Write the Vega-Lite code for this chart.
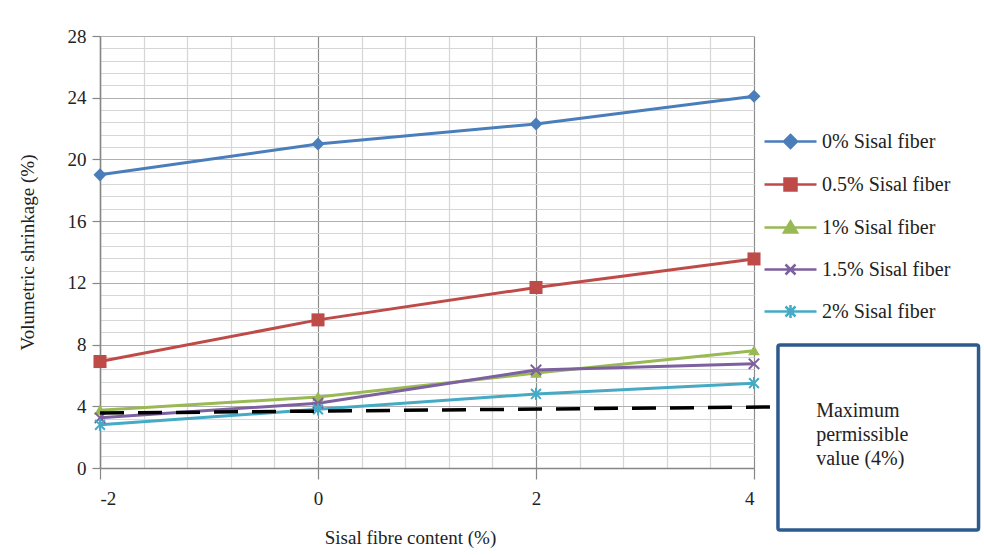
{
  "$schema": "https://vega.github.io/schema/vega-lite/v6.json",
  "width": 654,
  "height": 432,
  "autosize": "none",
  "padding": {"left": 100, "top": 36, "right": 230, "bottom": 88},
  "background": "white",
  "config": {"view": {"stroke": null}, "font": "Times New Roman, Liberation Serif, serif", "axis": {"labelFont": "Times New Roman, Liberation Serif, serif", "titleFont": "Times New Roman, Liberation Serif, serif"}, "legend": {"labelFont": "Times New Roman, Liberation Serif, serif"}, "text": {"font": "Times New Roman, Liberation Serif, serif"}},
  "datasets": {
    "series": [
      {"s": "0% Sisal fiber", "x": -2, "y": 19.0},
      {"s": "0% Sisal fiber", "x": 0, "y": 21.0},
      {"s": "0% Sisal fiber", "x": 2, "y": 22.3},
      {"s": "0% Sisal fiber", "x": 4, "y": 24.1},
      {"s": "0.5% Sisal fiber", "x": -2, "y": 6.9},
      {"s": "0.5% Sisal fiber", "x": 0, "y": 9.6},
      {"s": "0.5% Sisal fiber", "x": 2, "y": 11.7},
      {"s": "0.5% Sisal fiber", "x": 4, "y": 13.55},
      {"s": "1% Sisal fiber", "x": -2, "y": 3.75},
      {"s": "1% Sisal fiber", "x": 0, "y": 4.6},
      {"s": "1% Sisal fiber", "x": 2, "y": 6.15},
      {"s": "1% Sisal fiber", "x": 4, "y": 7.6},
      {"s": "1.5% Sisal fiber", "x": -2, "y": 3.25},
      {"s": "1.5% Sisal fiber", "x": 0, "y": 4.2},
      {"s": "1.5% Sisal fiber", "x": 2, "y": 6.35},
      {"s": "1.5% Sisal fiber", "x": 4, "y": 6.75},
      {"s": "2% Sisal fiber", "x": -2, "y": 2.8},
      {"s": "2% Sisal fiber", "x": 0, "y": 3.8},
      {"s": "2% Sisal fiber", "x": 2, "y": 4.8},
      {"s": "2% Sisal fiber", "x": 4, "y": 5.5}
    ],
    "limit": [
      {"x": -2, "y": 3.56},
      {"x": 4.22, "y": 3.96}
    ]
  },
  "layer": [
    {
      "data": {"name": "series"},
      "mark": {"type": "point", "opacity": 0},
      "encoding": {
        "x": {"field": "x", "type": "quantitative", "scale": {"domain": [-2, 4], "nice": false, "zero": false},
          "axis": {"orient": "top", "values": [-1.6,-1.2,-0.8,-0.4,0.4,0.8,1.2,1.6,2.4,2.8,3.2,3.6], "grid": true, "gridColor": "#d6d6d6", "gridWidth": 1.2, "domain": false, "ticks": false, "labels": false, "title": null}},
        "y": {"field": "y", "type": "quantitative", "scale": {"domain": [0, 28], "nice": false, "zero": false},
          "axis": {"orient": "right", "values": [0.8,1.6,2.4,3.2,4.8,5.6,6.4,7.2,8.8,9.6,10.4,11.2,12.8,13.6,14.4,15.2,16.8,17.6,18.4,19.2,20.8,21.6,22.4,23.2,24.8,25.6,26.4,27.2], "grid": true, "gridColor": "#d6d6d6", "gridWidth": 1.2, "domain": false, "ticks": false, "labels": false, "title": null}}
      }
    },
    {
      "data": {"name": "series"},
      "mark": {"type": "line", "strokeWidth": 3},
      "encoding": {
        "x": {"field": "x", "type": "quantitative", "scale": {"domain": [-2, 4], "nice": false, "zero": false},
          "axis": {"orient": "bottom", "values": [-2, 0, 2, 4], "labelExpr": "toString(datum.value)", "grid": true, "gridColor": "#8c8c8c", "gridWidth": 1.2, "domainColor": "#868686", "domainWidth": 1.5, "tickColor": "#868686", "tickSize": 11, "tickWidth": 1.2, "labelFontSize": 19, "labelColor": "#222222", "labelPadding": 10, "title": "Sisal fibre content (%)", "titleFontSize": 19, "titleFontWeight": "normal", "titleColor": "#222222", "titlePadding": 20, "titleX": 310}},
        "y": {"field": "y", "type": "quantitative", "scale": {"domain": [0, 28], "nice": false, "zero": false},
          "axis": {"orient": "left", "values": [0, 4, 8, 12, 16, 20, 24, 28], "grid": true, "gridColor": "#b0b0b0", "gridWidth": 1.2, "domainColor": "#868686", "domainWidth": 1.5, "tickColor": "#868686", "tickSize": 8, "tickWidth": 1.2, "labelFontSize": 19, "labelColor": "#222222", "labelPadding": 6, "title": "Volumetric shrinkage (%)", "titleFontSize": 19, "titleFontWeight": "normal", "titleColor": "#222222", "titlePadding": 30}},
        "color": {"field": "s", "type": "nominal",
          "scale": {"domain": ["0% Sisal fiber", "0.5% Sisal fiber", "1% Sisal fiber", "1.5% Sisal fiber", "2% Sisal fiber"], "range": ["#4A7EBB", "#BE4B48", "#98B954", "#7D60A0", "#46AAC5"]},
          "legend": {
            "title": null, "orient": "none", "legendX": 679, "legendY": 94, "padding": 0,
            "symbolSize": 400, "symbolStrokeWidth": 2.5, "labelFontSize": 20, "labelColor": "#222222", "labelOffset": 20, "rowPadding": 20,
            "encode": {"symbols": {"update": {
              "shape": {"signal": "datum.value === '0% Sisal fiber' ? 'M-2.6,0H2.6M0,-0.65L0.65,0L0,0.65L-0.65,0Z' : datum.value === '0.5% Sisal fiber' ? 'M-2.6,0H2.6M-0.6,-0.6H0.6V0.6H-0.6Z' : datum.value === '1% Sisal fiber' ? 'M-2.6,0H2.6M0,-0.6L0.65,0.5L-0.65,0.5Z' : datum.value === '1.5% Sisal fiber' ? 'M-2.6,0H2.6M-0.5,-0.5L0.5,0.5M-0.5,0.5L0.5,-0.5' : 'M-2.6,0H2.6M-0.5,-0.5L0.5,0.5M-0.5,0.5L0.5,-0.5M0,-0.65V0.65'"},
              "fill": {"scale": "color", "field": "value"},
              "stroke": {"scale": "color", "field": "value"},
              "strokeWidth": {"value": 2.5},
              "opacity": {"value": 1}
            }}}
          }}
      }
    },
    {
      "data": {"name": "series"},
      "transform": [{"filter": "datum.s === '0% Sisal fiber'"}],
      "mark": {"type": "point", "shape": "diamond", "filled": true, "opacity": 1, "size": 170},
      "encoding": {
        "x": {"field": "x", "type": "quantitative", "axis": null},
        "y": {"field": "y", "type": "quantitative", "axis": null},
        "color": {"field": "s", "type": "nominal"}
      }
    },
    {
      "data": {"name": "series"},
      "transform": [{"filter": "datum.s === '0.5% Sisal fiber'"}],
      "mark": {"type": "point", "shape": "square", "filled": true, "opacity": 1, "size": 170},
      "encoding": {
        "x": {"field": "x", "type": "quantitative", "axis": null},
        "y": {"field": "y", "type": "quantitative", "axis": null},
        "color": {"field": "s", "type": "nominal"}
      }
    },
    {
      "data": {"name": "series"},
      "transform": [{"filter": "datum.s === '1% Sisal fiber'"}],
      "mark": {"type": "point", "shape": "M0,-0.9L0.95,0.75L-0.95,0.75Z", "filled": true, "opacity": 1, "size": 150},
      "encoding": {
        "x": {"field": "x", "type": "quantitative", "axis": null},
        "y": {"field": "y", "type": "quantitative", "axis": null},
        "color": {"field": "s", "type": "nominal"}
      }
    },
    {
      "data": {"name": "series"},
      "transform": [{"filter": "datum.s === '1.5% Sisal fiber'"}],
      "mark": {"type": "point", "shape": "M-0.8,-0.8L0.8,0.8M-0.8,0.8L0.8,-0.8", "filled": false, "strokeWidth": 2, "opacity": 1, "size": 170},
      "encoding": {
        "x": {"field": "x", "type": "quantitative", "axis": null},
        "y": {"field": "y", "type": "quantitative", "axis": null},
        "color": {"field": "s", "type": "nominal"}
      }
    },
    {
      "data": {"name": "series"},
      "transform": [{"filter": "datum.s === '2% Sisal fiber'"}],
      "mark": {"type": "point", "shape": "M-0.8,-0.8L0.8,0.8M-0.8,0.8L0.8,-0.8M0,-1V1", "filled": false, "strokeWidth": 2, "opacity": 1, "size": 150},
      "encoding": {
        "x": {"field": "x", "type": "quantitative", "axis": null},
        "y": {"field": "y", "type": "quantitative", "axis": null},
        "color": {"field": "s", "type": "nominal"}
      }
    },
    {
      "data": {"name": "limit"},
      "mark": {"type": "line", "color": "#000000", "strokeWidth": 3.5, "strokeDash": [24, 14]},
      "encoding": {
        "x": {"field": "x", "type": "quantitative", "axis": null},
        "y": {"field": "y", "type": "quantitative", "axis": null}
      }
    },
    {
      "data": {"values": [{}]},
      "mark": {"type": "rect", "fill": "white", "stroke": "#2D5B8E", "strokeWidth": 3.5, "cornerRadius": 2},
      "encoding": {
        "x": {"datum": 4.22, "type": "quantitative", "axis": null},
        "x2": {"datum": 6.06},
        "y": {"datum": 7.97, "type": "quantitative", "axis": null},
        "y2": {"datum": -4.02}
      }
    },
    {
      "data": {"values": [{}]},
      "mark": {"type": "text", "align": "left", "baseline": "alphabetic", "fontSize": 20, "lineHeight": 24, "color": "#222222",
        "text": ["Maximum", "permissible", "value (4%)"]},
      "encoding": {
        "x": {"datum": 4.57, "type": "quantitative", "axis": null},
        "y": {"datum": 3.31, "type": "quantitative", "axis": null}
      }
    }
  ],
  "resolve": {"axis": {"x": "independent", "y": "independent"}}
}
